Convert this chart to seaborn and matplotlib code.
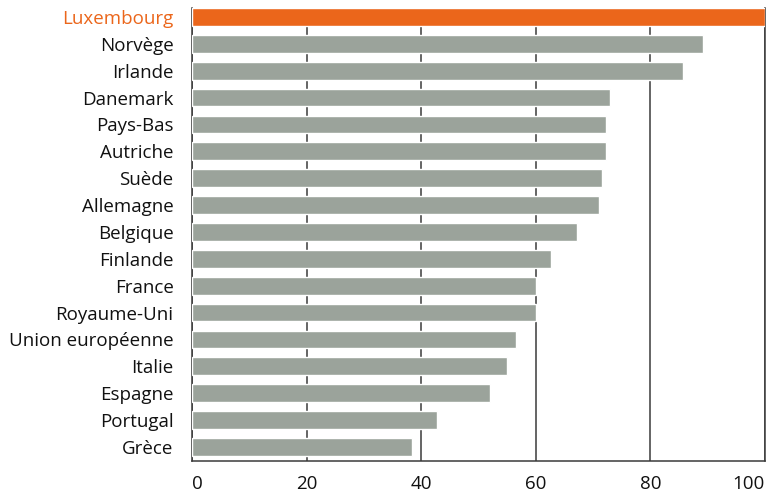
import numpy as np
import pandas as pd
import seaborn as sns
from matplotlib import pyplot as plt

countries = ["Luxembourg", "Norvège", "Irlande", "Danemark", "Pays-Bas", "Autriche",
             "Suède", "Allemagne", "Belgique", "Finlande", "France", "Royaume-Uni",
             "Union européenne", "Italie", "Espagne", "Portugal", "Grèce"]
values = [100, 89.2, 85.7, 72.9, 72.3, 72.3, 71.5, 71.0, 67.1, 62.6, 60.0, 60.0,
          56.5, 55.0, 52.0, 42.8, 38.3]
highlight = "Luxembourg"

orange = "#EB661B"
grey = "#9BA39B"
dark = "#3a3a3a"

sns.set_style("white")
plt.rcParams["font.family"] = ["Open Sans", "DejaVu Sans"]

df = pd.DataFrame({"pays": countries, "valeur": values})
df["groupe"] = np.where(df["pays"] == highlight, "h", "n")

fig = plt.figure(figsize=(7.7, 4.92), dpi=100)
ax = fig.add_axes([192.3 / 770, 1 - 460.7 / 492, (765 - 192.3) / 770, (460.7 - 8) / 492])

sns.barplot(data=df, x="valeur", y="pays", hue="groupe", palette={"h": orange, "n": grey},
            width=0.66, legend=False, ax=ax, zorder=3, saturation=1)

ax.set_xlim(0, 100)
ax.set_ylim(16.51, -0.33)
ax.set_xticks([0, 20, 40, 60, 80, 100])
ax.set_xlabel("")
ax.set_ylabel("")
ax.grid(axis="x", color=dark, lw=1.1)
ax.set_axisbelow(True)

ax.spines["top"].set_visible(False)
for side in ["left", "bottom", "right"]:
    ax.spines[side].set_color(dark)
    ax.spines[side].set_linewidth(1.1)

ax.tick_params(axis="x", length=0, pad=10, labelsize=13.5, labelcolor="#111111")
ax.tick_params(axis="y", length=0, pad=13.5, labelsize=13.5, labelcolor="#111111")
xlabs = ax.get_xticklabels()
xlabs[0].set_horizontalalignment("left")
xlabs[-1].set_horizontalalignment("right")
for lab in ax.get_yticklabels():
    if lab.get_text() == highlight:
        lab.set_color(orange)

fig.savefig("out.png", dpi=100)
